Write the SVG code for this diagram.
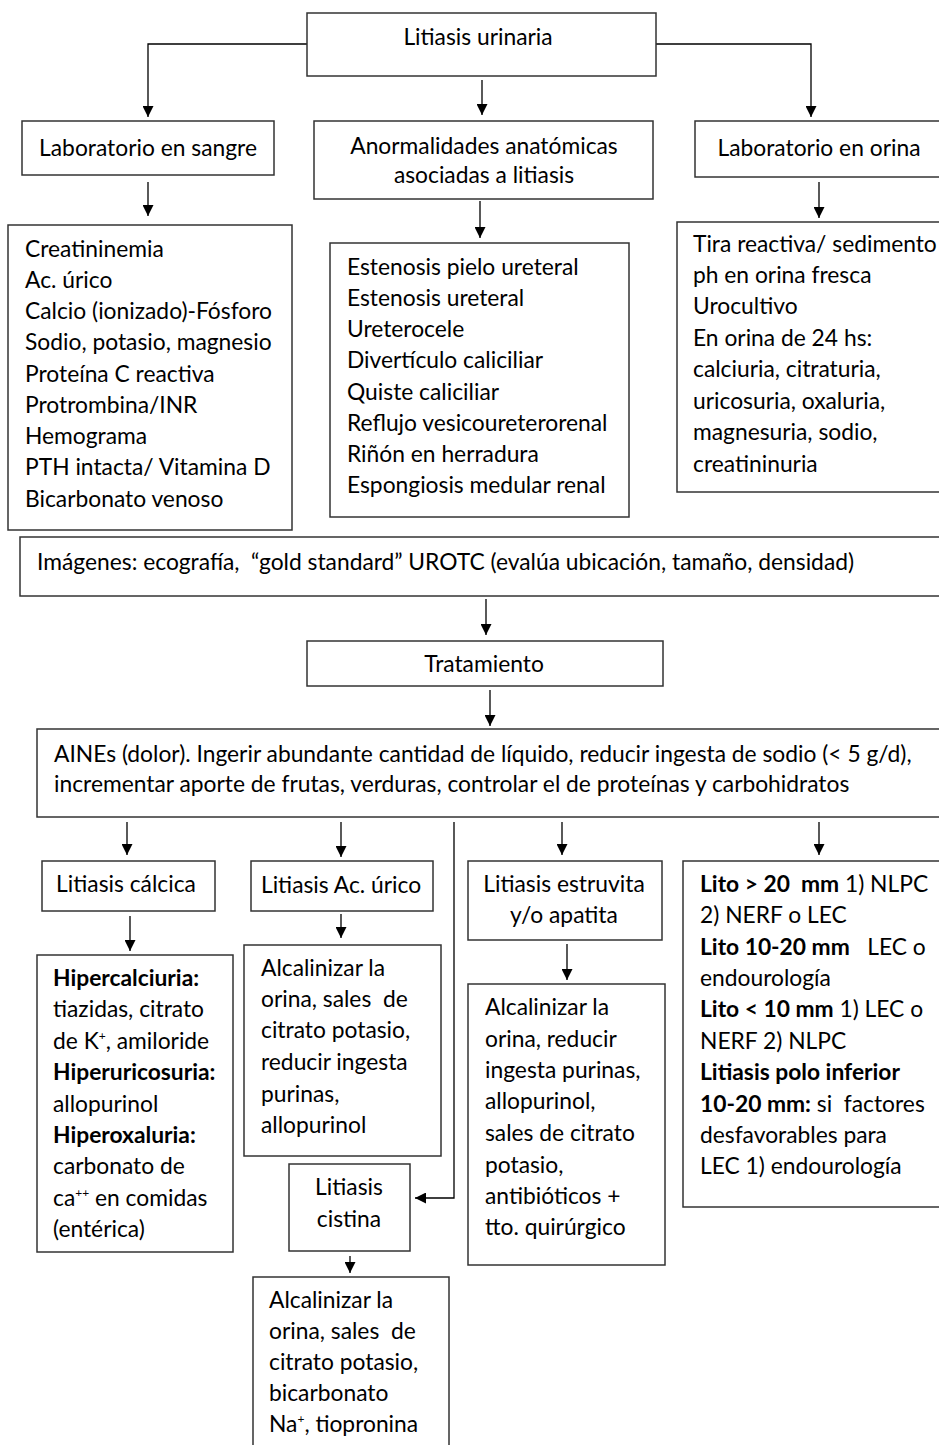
<svg xmlns="http://www.w3.org/2000/svg" width="939" height="1445" viewBox="0 0 939 1445">
<style>
.b{fill:#fff;stroke:#333;stroke-width:1.5}
.t{font-family:Lato,"Liberation Sans",sans-serif;font-size:22.8px;fill:#000}
.c{text-anchor:middle}
.bd{font-weight:bold}
.k{fill:none;stroke:#000;stroke-width:1.3;marker-end:url(#ah)}
.sup{font-size:12px}
</style>
<defs>
<marker id="ah" viewBox="0 0 11 11" markerWidth="11" markerHeight="11" refX="11" refY="5.5" orient="auto" markerUnits="userSpaceOnUse">
<path d="M0,0 L11,5.5 L0,11 z" fill="#000"/>
</marker>
</defs>
<rect width="939" height="1445" fill="#fff"/>
<g id="connectors">
<path class="k" d="M307,44 H148 V117"/>
<path class="k" d="M482,80 V115"/>
<path class="k" d="M656,44 H811 V117"/>
<path class="k" d="M148,182 V216"/>
<path class="k" d="M480,201 V238"/>
<path class="k" d="M819,182 V218"/>
<path class="k" d="M486,599 V635"/>
<path class="k" d="M490,690 V726"/>
<path class="k" d="M127,822 V855"/>
<path class="k" d="M341,822 V857"/>
<path class="k" d="M454,822 V1198 H415"/>
<path class="k" d="M562,822 V855"/>
<path class="k" d="M819,822 V855"/>
<path class="k" d="M130,916 V951"/>
<path class="k" d="M341,914 V938"/>
<path class="k" d="M567,944 V980"/>
<path class="k" d="M350,1256 V1273"/>
</g>
<g id="n-litiasis-urinaria">
<rect class="b" x="307" y="13" width="349" height="63"/>
<text class="t c" x="478" y="45">Litiasis urinaria</text>
</g>
<g id="n-lab-sangre">
<rect class="b" x="22" y="121" width="252" height="54"/>
<text class="t c" x="148" y="156">Laboratorio en sangre</text>
</g>
<g id="n-anormalidades">
<rect class="b" x="314" y="121" width="339" height="78"/>
<text class="t c" x="484" y="154">Anormalidades anatómicas</text>
<text class="t c" x="484" y="183">asociadas a litiasis</text>
</g>
<g id="n-lab-orina">
<rect class="b" x="695" y="121" width="260" height="56"/>
<text class="t c" x="819" y="156">Laboratorio en orina</text>
</g>
<g id="n-sangre-lista">
<rect class="b" x="8" y="225" width="284" height="305"/>
<text class="t" x="25" y="257">Creatininemia</text>
<text class="t" x="25" y="288">Ac. úrico</text>
<text class="t" x="25" y="319">Calcio (ionizado)-Fósforo</text>
<text class="t" x="25" y="350">Sodio, potasio, magnesio</text>
<text class="t" x="25" y="382">Proteína C reactiva</text>
<text class="t" x="25" y="413">Protrombina/INR</text>
<text class="t" x="25" y="444">Hemograma</text>
<text class="t" x="25" y="475">PTH intacta/ Vitamina D</text>
<text class="t" x="25" y="507">Bicarbonato venoso</text>
</g>
<g id="n-anormalidades-lista">
<rect class="b" x="330" y="243" width="299" height="274"/>
<text class="t" x="347" y="275">Estenosis pielo ureteral</text>
<text class="t" x="347" y="306">Estenosis ureteral</text>
<text class="t" x="347" y="337">Ureterocele</text>
<text class="t" x="347" y="368">Divertículo caliciliar</text>
<text class="t" x="347" y="400">Quiste caliciliar</text>
<text class="t" x="347" y="431">Reflujo vesicoureterorenal</text>
<text class="t" x="347" y="462">Riñón en herradura</text>
<text class="t" x="347" y="493">Espongiosis medular renal</text>
</g>
<g id="n-orina-lista">
<rect class="b" x="677" y="222" width="280" height="270"/>
<text class="t" x="693" y="252">Tira reactiva/ sedimento</text>
<text class="t" x="693" y="283">ph en orina fresca</text>
<text class="t" x="693" y="314">Urocultivo</text>
<text class="t" x="693" y="346">En orina de 24 hs:</text>
<text class="t" x="693" y="377">calciuria, citraturia,</text>
<text class="t" x="693" y="409">uricosuria, oxaluria,</text>
<text class="t" x="693" y="440">magnesuria, sodio,</text>
<text class="t" x="693" y="472">creatininuria</text>
</g>
<g id="n-imagenes">
<rect class="b" x="20" y="537" width="940" height="59"/>
<text class="t" x="37" y="570" xml:space="preserve">Imágenes: ecografía,  “gold standard” UROTC (evalúa ubicación, tamaño, densidad)</text>
</g>
<g id="n-tratamiento">
<rect class="b" x="307" y="641" width="356" height="45"/>
<text class="t c" x="484" y="672">Tratamiento</text>
</g>
<g id="n-aines">
<rect class="b" x="37" y="729" width="920" height="88"/>
<text class="t" x="54" y="762">AINEs (dolor). Ingerir abundante cantidad de líquido, reducir ingesta de sodio (&lt; 5 g/d),</text>
<text class="t" x="54" y="792">incrementar aporte de frutas, verduras, controlar el de proteínas y carbohidratos</text>
</g>
<g id="n-calcica">
<rect class="b" x="42" y="861" width="173" height="50"/>
<text class="t c" x="126" y="892">Litiasis cálcica</text>
</g>
<g id="n-acurico">
<rect class="b" x="251" y="861" width="182" height="50"/>
<text class="t c" x="341" y="893">Litiasis Ac. úrico</text>
</g>
<g id="n-estruvita">
<rect class="b" x="468" y="861" width="194" height="79"/>
<text class="t c" x="564" y="892">Litiasis estruvita</text>
<text class="t c" x="564" y="923">y/o apatita</text>
</g>
<g id="n-lito">
<rect class="b" x="683" y="861" width="280" height="346"/>
<text class="t" x="700" y="892" xml:space="preserve"><tspan class="bd">Lito &gt; 20  mm</tspan> 1) NLPC</text>
<text class="t" x="700" y="923">2) NERF o LEC</text>
<text class="t" x="700" y="955" xml:space="preserve"><tspan class="bd">Lito 10-20 mm</tspan>   LEC o</text>
<text class="t" x="700" y="986">endourología</text>
<text class="t" x="700" y="1017"><tspan class="bd">Lito &lt; 10 mm</tspan> 1) LEC o</text>
<text class="t" x="700" y="1049">NERF 2) NLPC</text>
<text class="t bd" x="700" y="1080">Litiasis polo inferior</text>
<text class="t" x="700" y="1112" xml:space="preserve"><tspan class="bd">10-20 mm:</tspan> si  factores</text>
<text class="t" x="700" y="1143">desfavorables para</text>
<text class="t" x="700" y="1174">LEC 1) endourología</text>
</g>
<g id="n-calcica-tto">
<rect class="b" x="37" y="955" width="196" height="297"/>
<text class="t bd" x="53" y="986">Hipercalciuria:</text>
<text class="t" x="53" y="1017">tiazidas, citrato</text>
<text class="t" x="53" y="1049">de K<tspan class="sup" dy="-9">+</tspan><tspan dy="9">, amiloride</tspan></text>
<text class="t bd" x="53" y="1080">Hiperuricosuria:</text>
<text class="t" x="53" y="1112">allopurinol</text>
<text class="t bd" x="53" y="1143">Hiperoxaluria:</text>
<text class="t" x="53" y="1174">carbonato de</text>
<text class="t" x="53" y="1206">ca<tspan class="sup" dy="-9">++</tspan><tspan dy="9"> en comidas</tspan></text>
<text class="t" x="53" y="1237">(entérica)</text>
</g>
<g id="n-acurico-tto">
<rect class="b" x="244" y="945" width="197" height="211"/>
<text class="t" x="261" y="976">Alcalinizar la</text>
<text class="t" x="261" y="1007" xml:space="preserve">orina, sales  de</text>
<text class="t" x="261" y="1038">citrato potasio,</text>
<text class="t" x="261" y="1070">reducir ingesta</text>
<text class="t" x="261" y="1102">purinas,</text>
<text class="t" x="261" y="1133">allopurinol</text>
</g>
<g id="n-estruvita-tto">
<rect class="b" x="468" y="984" width="197" height="281"/>
<text class="t" x="485" y="1015">Alcalinizar la</text>
<text class="t" x="485" y="1047">orina, reducir</text>
<text class="t" x="485" y="1078">ingesta purinas,</text>
<text class="t" x="485" y="1109">allopurinol,</text>
<text class="t" x="485" y="1141">sales de citrato</text>
<text class="t" x="485" y="1173">potasio,</text>
<text class="t" x="485" y="1204">antibióticos +</text>
<text class="t" x="485" y="1235">tto. quirúrgico</text>
</g>
<g id="n-cistina">
<rect class="b" x="289" y="1164" width="121" height="87"/>
<text class="t c" x="349" y="1195">Litiasis</text>
<text class="t c" x="349" y="1227">cistina</text>
</g>
<g id="n-cistina-tto">
<rect class="b" x="253" y="1277" width="196" height="190"/>
<text class="t" x="269" y="1308">Alcalinizar la</text>
<text class="t" x="269" y="1339" xml:space="preserve">orina, sales  de</text>
<text class="t" x="269" y="1370">citrato potasio,</text>
<text class="t" x="269" y="1401">bicarbonato</text>
<text class="t" x="269" y="1432">Na<tspan class="sup" dy="-9">+</tspan><tspan dy="9">, tiopronina</tspan></text>
</g>
</svg>
